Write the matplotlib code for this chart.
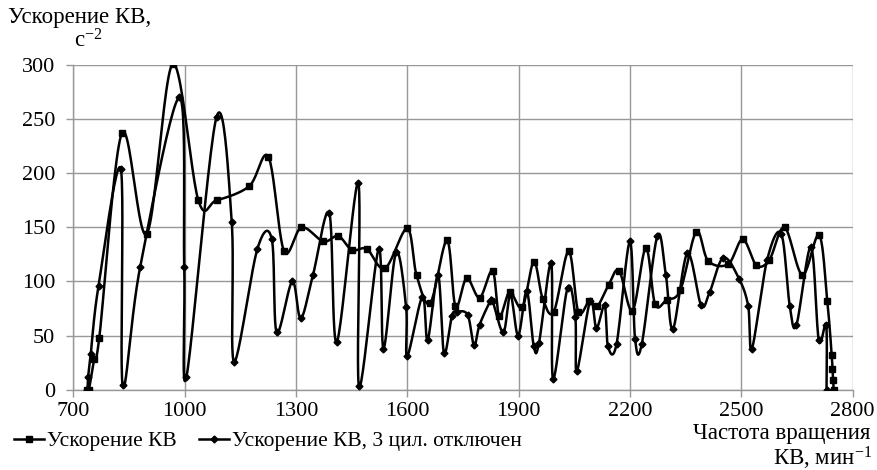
import numpy as np
import matplotlib
matplotlib.use("Agg")
import matplotlib.pyplot as plt
from matplotlib.lines import Line2D

plt.rcParams['font.family'] = ['Liberation Serif', 'DejaVu Serif']
plt.rcParams['mathtext.fontset'] = 'custom'
plt.rcParams['mathtext.rm'] = 'Liberation Serif'
plt.rcParams['mathtext.it'] = 'Liberation Serif:italic'

# series 1: "Ускорение КВ" (square markers)
sq_x = [737, 742, 756, 770, 831, 898, 968, 1037, 1086, 1174,
        1226, 1268, 1315, 1374, 1414, 1451, 1491, 1540, 1600, 1625,
        1662, 1707, 1730, 1760, 1795, 1830, 1848, 1876, 1910, 1941,
        1965, 1995, 2035, 2061, 2091, 2112, 2143, 2171, 2207, 2243,
        2268, 2299, 2336, 2379, 2411, 2465, 2504, 2541, 2576, 2617,
        2665, 2710, 2732, 2744, 2746, 2748, 2749]
sq_y = [0, 0, 28, 48, 237, 144, 301, 175, 175, 188,
        215, 128, 150, 137, 142, 129, 130, 112, 149, 106,
        80, 138, 77, 103, 85, 110, 68, 90, 76, 118,
        84, 72, 128, 72, 82, 77, 97, 110, 73, 131,
        79, 83, 92, 146, 119, 116, 139, 115, 120, 150,
        106, 143, 82, 32, 19, 9, 0]

# series 2: "Ускорение КВ, 3 цил. отключен" (diamond markers)
dm_x = [738, 740, 747, 768, 828, 833, 880, 986, 999, 1005,
        1086, 1127, 1133, 1196, 1235, 1248, 1290, 1313, 1346, 1390,
        1410, 1468, 1470, 1523, 1536, 1570, 1597, 1600, 1641, 1655,
        1683, 1699, 1720, 1734, 1763, 1780, 1795, 1824, 1830, 1859,
        1878, 1899, 1922, 1941, 1955, 1988, 1993, 2032, 2053, 2057,
        2093, 2110, 2132, 2141, 2164, 2200, 2214, 2232, 2274, 2297,
        2316, 2355, 2392, 2415, 2452, 2495, 2519, 2529, 2570, 2608,
        2631, 2649, 2688, 2709, 2729, 2730]
dm_y = [0, 12, 33, 96, 204, 4, 113, 270, 113, 12,
        252, 155, 26, 130, 139, 53, 100, 66, 106, 163,
        44, 191, 3, 130, 38, 127, 76, 31, 86, 46,
        106, 34, 68, 72, 69, 41, 60, 82, 82, 53,
        88, 50, 91, 40, 43, 117, 10, 94, 67, 17,
        82, 57, 78, 40, 42, 137, 47, 42, 142, 106,
        56, 126, 78, 90, 122, 102, 77, 38, 120, 144,
        77, 60, 132, 46, 60, 0]

x_ticks = [700, 1000, 1300, 1600, 1900, 2200, 2500, 2800]
y_ticks = [0, 50, 100, 150, 200, 250, 300]


def smooth(xs, ys, n=24):
    # Excel-like smoothed line (Catmull-Rom as cubic Bezier)
    p = np.column_stack([xs, ys]).astype(float)
    pe = np.vstack([p[0], p, p[-1]])
    t = np.linspace(0, 1, n, endpoint=False)[:, None]
    out = []
    for i in range(len(p) - 1):
        p0, p1, p2, p3 = pe[i], pe[i + 1], pe[i + 2], pe[i + 3]
        c1 = p1 + (p2 - p0) / 6
        c2 = p2 - (p3 - p1) / 6
        seg = ((1 - t) ** 3) * p1 + 3 * ((1 - t) ** 2) * t * c1 \
            + 3 * (1 - t) * t ** 2 * c2 + t ** 3 * p2
        out.append(seg)
    out.append(p[-1:])
    out = np.vstack(out)
    return out[:, 0], out[:, 1]


W, H = 877, 470
fig = plt.figure(figsize=(W / 100, H / 100), dpi=100)
left, right, top, bottom = 73.3, 852.5, 65, 389.7
ax = fig.add_axes([left / W, 1 - bottom / H, (right - left) / W, (bottom - top) / H])

grid_c = '#989898'
fs = 16.5
fs_tick = 16
fs_leg = 15.5

sx, sy = smooth(sq_x, sq_y)
ax.plot(sx, sy, color='black', lw=1.8, solid_joinstyle='round', zorder=3)
ax.plot(sq_x, sq_y, ls='none', marker='s', ms=4, color='black', zorder=4)

dx, dy = smooth(dm_x, dm_y)
ax.plot(dx, dy, color='black', lw=1.8, solid_joinstyle='round', zorder=3)
ax.plot(dm_x, dm_y, ls='none', marker='D', ms=3.5, color='black', zorder=4)

ax.set_xlim(700, 2800)
ax.set_ylim(0, 300)
ax.set_xticks(x_ticks)
ax.set_yticks(y_ticks)
ax.grid(True, color=grid_c, lw=1.0, zorder=0)
ax.set_axisbelow(True)
for s in ['top', 'right']:
    ax.spines[s].set_visible(False)
for s in ['left', 'bottom']:
    ax.spines[s].set_color(grid_c)
    ax.spines[s].set_linewidth(1.0)
ax.tick_params(axis='both', direction='out', length=5, width=1.0, color=grid_c,
               labelsize=fs_tick, labelcolor='black')
ax.tick_params(axis='x', pad=4)
ax.tick_params(axis='y', pad=8)

fig.text(8 / W, 1 - 18 / H, 'Ускорение КВ,', fontsize=fs, ha='left', va='center')
fig.text(74 / W, 1 - 41 / H, 'с$^{\\mathrm{-2}}$', fontsize=fs, ha='left', va='center')
fig.text(870 / W, 1 - 433 / H, 'Частота вращения', fontsize=fs, ha='right', va='center')
fig.text(872 / W, 1 - 458 / H, 'КВ, мин$^{\\mathrm{-1}}$', fontsize=fs, ha='right', va='center')

handles = [
    Line2D([], [], color='black', lw=1.8, marker='s', ms=4),
    Line2D([], [], color='black', lw=1.8, marker='D', ms=3.5),
]
labels = ['Ускорение КВ', 'Ускорение КВ, 3 цил. отключен']
fig.legend(handles, labels, loc='center left', bbox_to_anchor=(14 / W, 1 - 441 / H),
           ncol=2, frameon=False, fontsize=fs_leg, handlelength=1.4, handletextpad=0.15,
           columnspacing=1.0, borderpad=0, borderaxespad=0)

fig.savefig('out.png', dpi=100)
